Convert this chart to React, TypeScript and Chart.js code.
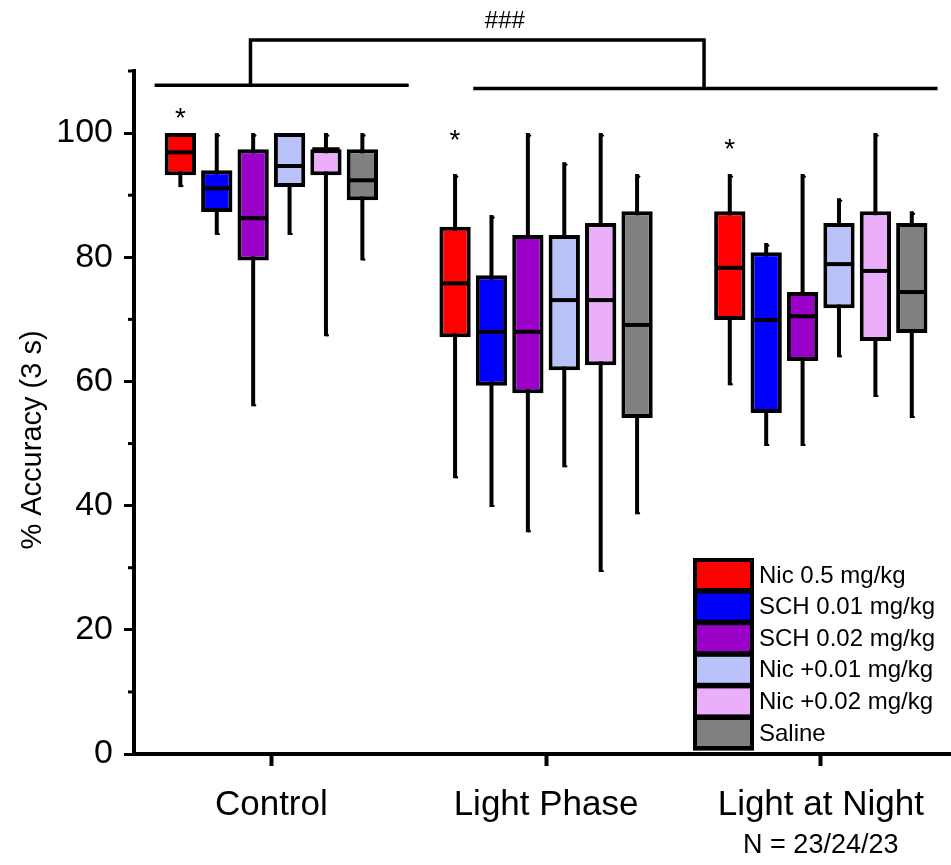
import React, { useEffect, useRef } from 'react';
import { Chart, registerables } from 'chart.js';

Chart.register(...registerables);

// ---------- data ----------
const categories = ['Control', 'Light Phase', 'Light at Night'];
const seriesNames = ['Nic 0.5 mg/kg', 'SCH 0.01 mg/kg', 'SCH 0.02 mg/kg', 'Nic +0.01 mg/kg', 'Nic +0.02 mg/kg', 'Saline'];
const seriesColors = ['#FF0000', '#0000FF', '#9A00C8', '#B9C3FA', '#EBAEFB', '#808080'];

// each entry: [min, q1, median, q3, max] for Control, Light Phase, Light at Night
const nic05 = [[91.3, 93.2, 96.9, 100, 100], [44.4, 67.1, 75.8, 84.9, 93.4], [59.4, 69.9, 78.3, 87.4, 93.4]];
const sch001 = [[83.6, 87.3, 91.1, 94.0, 100], [39.8, 59.3, 68.0, 77.1, 86.8], [49.6, 54.9, 69.9, 80.8, 82.3]];
const sch002 = [[56.0, 79.5, 86.3, 97.4, 100], [35.7, 58.1, 68.0, 83.6, 100], [49.6, 63.3, 70.5, 74.4, 93.4]];
const nicSch001 = [[83.6, 91.3, 94.7, 100, 100], [46.2, 61.8, 73.1, 83.6, 95.3], [63.9, 71.8, 78.9, 85.5, 89.5]];
const nicSch002 = [[67.3, 93.2, 97.4, 97.4, 100], [29.3, 62.6, 73.1, 85.5, 100], [57.5, 66.5, 77.8, 87.4, 100]];
const saline = [[79.5, 89.2, 92.4, 97.4, 100], [38.6, 54.1, 69.1, 87.4, 93.4], [54.1, 67.8, 74.4, 85.5, 87.4]];
const seriesStats = [nic05, sch001, sch002, nicSch001, nicSch002, saline];

const yMin = 0;
const yMax = 110;
const yStep = 10;
const yLabelStep = 20;
const yTitle = '% Accuracy (3 s)';
const nText = 'N = 23/24/23';

// significance annotations (axis units)
const asteriskY = [103.7, 100.2, 98.7];
const sigLineX0 = [0.575, 1.735];
const sigLineX1 = [1.5, 3.425];
const sigLineY = [107.7, 107.2];
const bracketX = [0.924, 2.575];
const bracketTopY = 115.0;
const hashText = '###';
const hashPos = [1.85, 118.0];

const FONT = "'Liberation Sans', Arial, sans-serif";

const extrasPlugin = {
  id: 'boxExtras',
  beforeDatasetsDraw(chart: any) {
    const { ctx } = chart;
    const y = chart.scales.y;
    ctx.save();
    ctx.strokeStyle = '#000';
    ctx.lineWidth = 4;
    seriesStats.forEach((stats, di) => {
      const meta = chart.getDatasetMeta(di);
      meta.data.forEach((bar: any, i: number) => {
        const s = stats[i];
        const x = bar.x;
        const top = y.getPixelForValue(s[4]);
        const bot = y.getPixelForValue(s[0]);
        ctx.beginPath();
        ctx.moveTo(x, top);
        ctx.lineTo(x, bot);
        ctx.stroke();
        ctx.lineWidth = 2;
        ctx.beginPath();
        ctx.moveTo(x, top + 1);
        ctx.lineTo(x + 3, top + 3);
        ctx.moveTo(x, bot - 1);
        ctx.lineTo(x + 3, bot - 1);
        ctx.stroke();
        ctx.lineWidth = 4;
      });
    });
    ctx.restore();
  },
  afterDatasetsDraw(chart: any) {
    const { ctx } = chart;
    const y = chart.scales.y;
    ctx.save();
    ctx.strokeStyle = '#000';
    ctx.lineWidth = 4;
    seriesStats.forEach((stats, di) => {
      const meta = chart.getDatasetMeta(di);
      meta.data.forEach((bar: any, i: number) => {
        const s = stats[i];
        const py = y.getPixelForValue(s[2]);
        const w = bar.width;
        ctx.beginPath();
        ctx.moveTo(bar.x - w / 2 + 2, py);
        ctx.lineTo(bar.x + w / 2 - 2, py);
        ctx.stroke();
      });
    });
    ctx.restore();
  },
  afterDraw(chart: any) {
    const { ctx, chartArea } = chart;
    const x = chart.scales.x;
    const y = chart.scales.y;
    ctx.save();
    // minor ticks
    ctx.strokeStyle = '#000';
    ctx.lineWidth = 3;
    for (let v = yMin + yStep; v <= yMax; v += yLabelStep) {
      const py = y.getPixelForValue(v);
      ctx.beginPath();
      ctx.moveTo(chartArea.left - 6, py);
      ctx.lineTo(chartArea.left, py);
      ctx.stroke();
    }
    // asterisks above first series
    const redMeta = chart.getDatasetMeta(0);
    ctx.fillStyle = '#000';
    ctx.font = `28px ${FONT}`;
    ctx.textAlign = 'center';
    ctx.textBaseline = 'alphabetic';
    redMeta.data.forEach((bar: any, i: number) => {
      ctx.fillText('*', bar.x, y.getPixelForValue(asteriskY[i]) + 17);
    });
    // significance lines and bracket
    ctx.lineWidth = 3.5;
    ctx.lineCap = 'butt';
    for (let k = 0; k < sigLineY.length; k++) {
      const py = y.getPixelForValue(sigLineY[k]);
      ctx.beginPath();
      ctx.moveTo(x.getPixelForValue(sigLineX0[k]), py);
      ctx.lineTo(x.getPixelForValue(sigLineX1[k]), py);
      ctx.stroke();
    }
    const topPy = y.getPixelForValue(bracketTopY);
    ctx.beginPath();
    ctx.moveTo(x.getPixelForValue(bracketX[0]), y.getPixelForValue(sigLineY[0]));
    ctx.lineTo(x.getPixelForValue(bracketX[0]), topPy);
    ctx.lineTo(x.getPixelForValue(bracketX[1]), topPy);
    ctx.lineTo(x.getPixelForValue(bracketX[1]), y.getPixelForValue(sigLineY[1]));
    ctx.stroke();
    ctx.font = `24px ${FONT}`;
    ctx.textBaseline = 'middle';
    ctx.fillText(hashText, x.getPixelForValue(hashPos[0]), y.getPixelForValue(hashPos[1]));
    // legend
    const lx = 693;
    const ly = 558;
    const pitch = 31.6;
    ctx.fillStyle = '#000';
    ctx.fillRect(lx, ly, 61, seriesNames.length * pitch + 3);
    ctx.font = `24px ${FONT}`;
    ctx.textAlign = 'left';
    ctx.textBaseline = 'middle';
    seriesNames.forEach((name, i) => {
      const ty = ly + 4 + i * pitch;
      ctx.fillStyle = seriesColors[i];
      ctx.fillRect(lx + 4, ty, 53, 26);
      ctx.fillStyle = '#000';
      ctx.fillText(name, 759, ty + 14);
    });
    // N text
    ctx.font = `27px ${FONT}`;
    ctx.textAlign = 'center';
    ctx.fillText(nText, x.getPixelForValue(3), 846);
    // y title
    ctx.save();
    ctx.translate(33, 440);
    ctx.rotate(-Math.PI / 2);
    ctx.font = `29px ${FONT}`;
    ctx.textAlign = 'center';
    ctx.textBaseline = 'middle';
    ctx.fillText(yTitle, 0, 0);
    ctx.restore();
    ctx.restore();
  },
};

export default function App() {
  const ref = useRef<HTMLCanvasElement | null>(null);
  useEffect(() => {
    if (!ref.current) return;
    const datasets = seriesStats.map((stats, di) => ({
      label: seriesNames[di],
      data: stats.map((s, i) => ({ x: i + 1, y: [s[1], s[3]] })),
      backgroundColor: seriesColors[di],
      borderColor: '#000',
      borderWidth: 4,
      borderSkipped: false,
      categoryPercentage: 0.795,
      barPercentage: 0.86,
    }));
    const chart = new Chart(ref.current, {
      type: 'bar',
      data: { datasets } as any,
      plugins: [extrasPlugin],
      options: {
        animation: false,
        responsive: false,
        devicePixelRatio: 1,
        layout: { padding: { top: 71, left: 0, right: 0, bottom: 0 } },
        plugins: { legend: { display: false }, tooltip: { enabled: false } },
        scales: {
          x: {
            type: 'linear',
            min: 0.5,
            max: 3.474,
            offset: false,
            afterBuildTicks: (scale: any) => {
              scale.ticks = categories.map((_, i) => ({ value: i + 1 }));
            },
            afterFit: (scale: any) => {
              scale.height = 111;
            },
            grid: { display: true, offset: false, drawOnChartArea: false, drawTicks: true, tickLength: 12, tickWidth: 4, tickColor: '#000', color: '#000' },
            border: { display: true, color: '#000', width: 4 },
            ticks: {
              color: '#000',
              font: { family: FONT, size: 35 },
              padding: 18,
              maxRotation: 0,
              autoSkip: false,
              callback: (v: any) => categories[Math.round(v) - 1] ?? '',
            },
          },
          y: {
            type: 'linear',
            min: yMin,
            max: yMax,
            afterFit: (scale: any) => {
              scale.width = 134;
            },
            grid: {
              display: true,
              drawOnChartArea: false,
              drawTicks: true,
              tickLength: 10,
              tickWidth: 3,
              tickColor: (c: any) => (c.tick && c.tick.value % yLabelStep === 0 ? '#000' : 'rgba(0,0,0,0)'),
              color: '#000',
            },
            border: { display: true, color: '#000', width: 4 },
            ticks: {
              stepSize: yStep,
              color: '#000',
              font: { family: FONT, size: 34 },
              padding: 11,
              autoSkip: false,
              callback: (v: any) => (v % yLabelStep === 0 ? String(v) : ''),
            },
          },
        },
      } as any,
    });
    return () => chart.destroy();
  }, []);
  return (
    <div style={{ position: 'absolute', left: 0, top: 0, width: 951, height: 865, background: '#fff' }}>
      <canvas ref={ref} width={951} height={865} style={{ width: 951, height: 865, display: 'block' }} />
    </div>
  );
}
